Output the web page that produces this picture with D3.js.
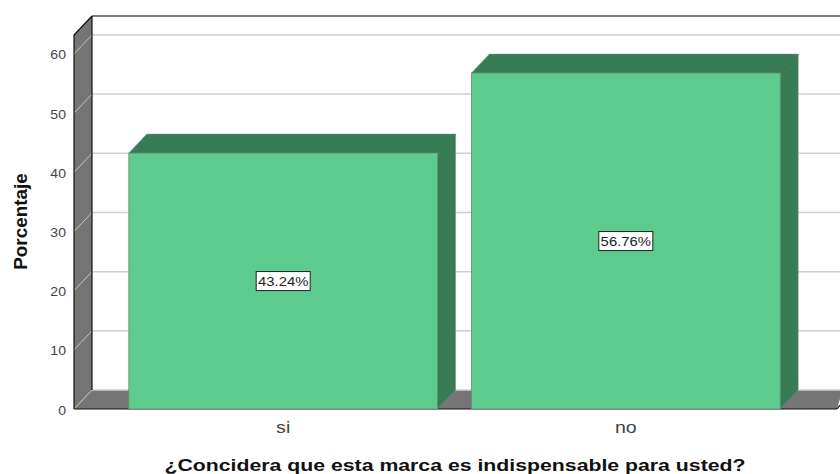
<!DOCTYPE html>
<html><head><meta charset="utf-8">
<script src="https://cdn.jsdelivr.net/npm/d3@7"></script>
<style>html,body{margin:0;padding:0;background:#fff}svg{display:block}text{font-family:"Liberation Sans",Arial,sans-serif}</style>
</head><body><script>
const categories = ["si", "no"];
const percentages = [43.24, 56.76];
const yTicks = [0, 10, 20, 30, 40, 50, 60];
const yMax = 63.2;
const xTitle = "¿Concidera que esta marca es indispensable para usted?";
const yTitle = "Porcentaje";

const W = 840, H = 474, DX = 18, DY = 19;
const x = d3.scaleBand().domain(categories).range([74, 835]).paddingInner(0.099).paddingOuter(0.16);
const y = d3.scaleLinear().domain([0, yMax]).range([409, 35]);
const svg = d3.select("body").append("svg").attr("width", W).attr("height", H);
const poly = (pts, fill, stroke, sw) => svg.append("polygon").attr("points", pts.map(p => p.join(",")).join(" "))
  .attr("fill", fill).attr("stroke", stroke || "none").attr("stroke-width", sw || 0);
// stretched real text, as in the reference's wide rendering
const stretch = (sel, factor) => {
  const n = sel.node();
  sel.attr("textLength", n.getComputedTextLength() * factor).attr("lengthAdjust", "spacingAndGlyphs");
  return sel;
};

const x0 = x.range()[0], x1 = x.range()[1] + 2, yb = y(0), yt = y(yMax);

// left wall and floor
poly([[x0, yb], [x0 + DX, yb - DY], [x0 + DX, yt - DY], [x0, yt]], "#757575");
poly([[x0, yb], [x0 + DX, yb - DY], [W + 2, yb - DY], [W + 2, yb - DY + 2], [x1, yb]], "#757575");

// grid lines on back wall and left wall
yTicks.forEach(t => {
  const yy = y(t);
  svg.append("line").attr("x1", x0 + DX).attr("x2", W).attr("y1", yy - DY).attr("y2", yy - DY)
    .attr("stroke", "#cfcfcf").attr("stroke-width", 1.5);
  svg.append("line").attr("x1", x0).attr("x2", x0 + DX).attr("y1", yy).attr("y2", yy - DY)
    .attr("stroke", "#c4c4c4").attr("stroke-width", 1);
});
svg.append("line").attr("x1", x0 + DX).attr("x2", W).attr("y1", yt - DY).attr("y2", yt - DY).attr("stroke", "#000").attr("stroke-width", 1.2);

// wall outlines
const blk = (a, b, c, d) => svg.append("line").attr("x1", a).attr("y1", b).attr("x2", c).attr("y2", d).attr("stroke", "#111").attr("stroke-width", 1.2);
blk(x0, yt, x0, yb);
blk(x0, yt, x0 + DX, yt - DY);
blk(x0 + DX, yt - DY, x0 + DX, yb - DY);
blk(x0, yb, x1, yb);
blk(x1, yb, W, yb - 4);

// bars
categories.forEach((c, i) => {
  const l = x(c), r = l + x.bandwidth(), t = y(percentages[i]);
  poly([[l, t], [l + DX, t - DY], [r + DX, t - DY], [r, t]], "#387c55", "#6f8f7d", 0.5);
  poly([[r, t], [r + DX, t - DY], [r + DX, yb - DY], [r, yb]], "#387c55", "#6f8f7d", 0.5);
  svg.append("line").attr("x1", r).attr("y1", t).attr("x2", r + DX).attr("y2", t - DY).attr("stroke", "#2f5f45").attr("stroke-width", 0.8);
  svg.append("rect").attr("x", l).attr("y", t).attr("width", r - l).attr("height", yb - t)
    .attr("fill", "#5dcb8d").attr("stroke", "#5f8f74").attr("stroke-width", 0.8);
  const cx = l + (r - l) / 2, cy = (t + yb) / 2;
  const lab = percentages[i].toFixed(2) + "%";
  svg.append("rect").attr("x", cx - 27).attr("y", cy - 9.5).attr("width", 54).attr("height", 19)
    .attr("fill", "#fff").attr("stroke", "#222").attr("stroke-width", 1);
  stretch(svg.append("text").attr("x", cx).attr("y", cy + 5).attr("text-anchor", "middle").attr("font-size", 13.5).attr("fill", "#222").text(lab), 1.1);
});

// axes text
yTicks.forEach(t => stretch(svg.append("text").attr("x", 66).attr("y", y(t) + 5.5).attr("text-anchor", "end").attr("font-size", 13).attr("fill", "#444").text(t), 1.08));
categories.forEach(c => stretch(svg.append("text").attr("x", x(c) + x.bandwidth() / 2).attr("y", 433).attr("text-anchor", "middle").attr("font-size", 17).attr("fill", "#444").text(c), 1.15));
stretch(svg.append("text").attr("x", 455).attr("y", 471).attr("text-anchor", "middle").attr("font-size", 17).attr("font-weight", "bold").attr("fill", "#111").text(xTitle), 1.25);
stretch(svg.append("text").attr("transform", "translate(27,221.5) rotate(-90)").attr("text-anchor", "middle").attr("font-size", 18).attr("font-weight", "bold").attr("fill", "#111").text(yTitle), 1.05);
</script></body></html>
